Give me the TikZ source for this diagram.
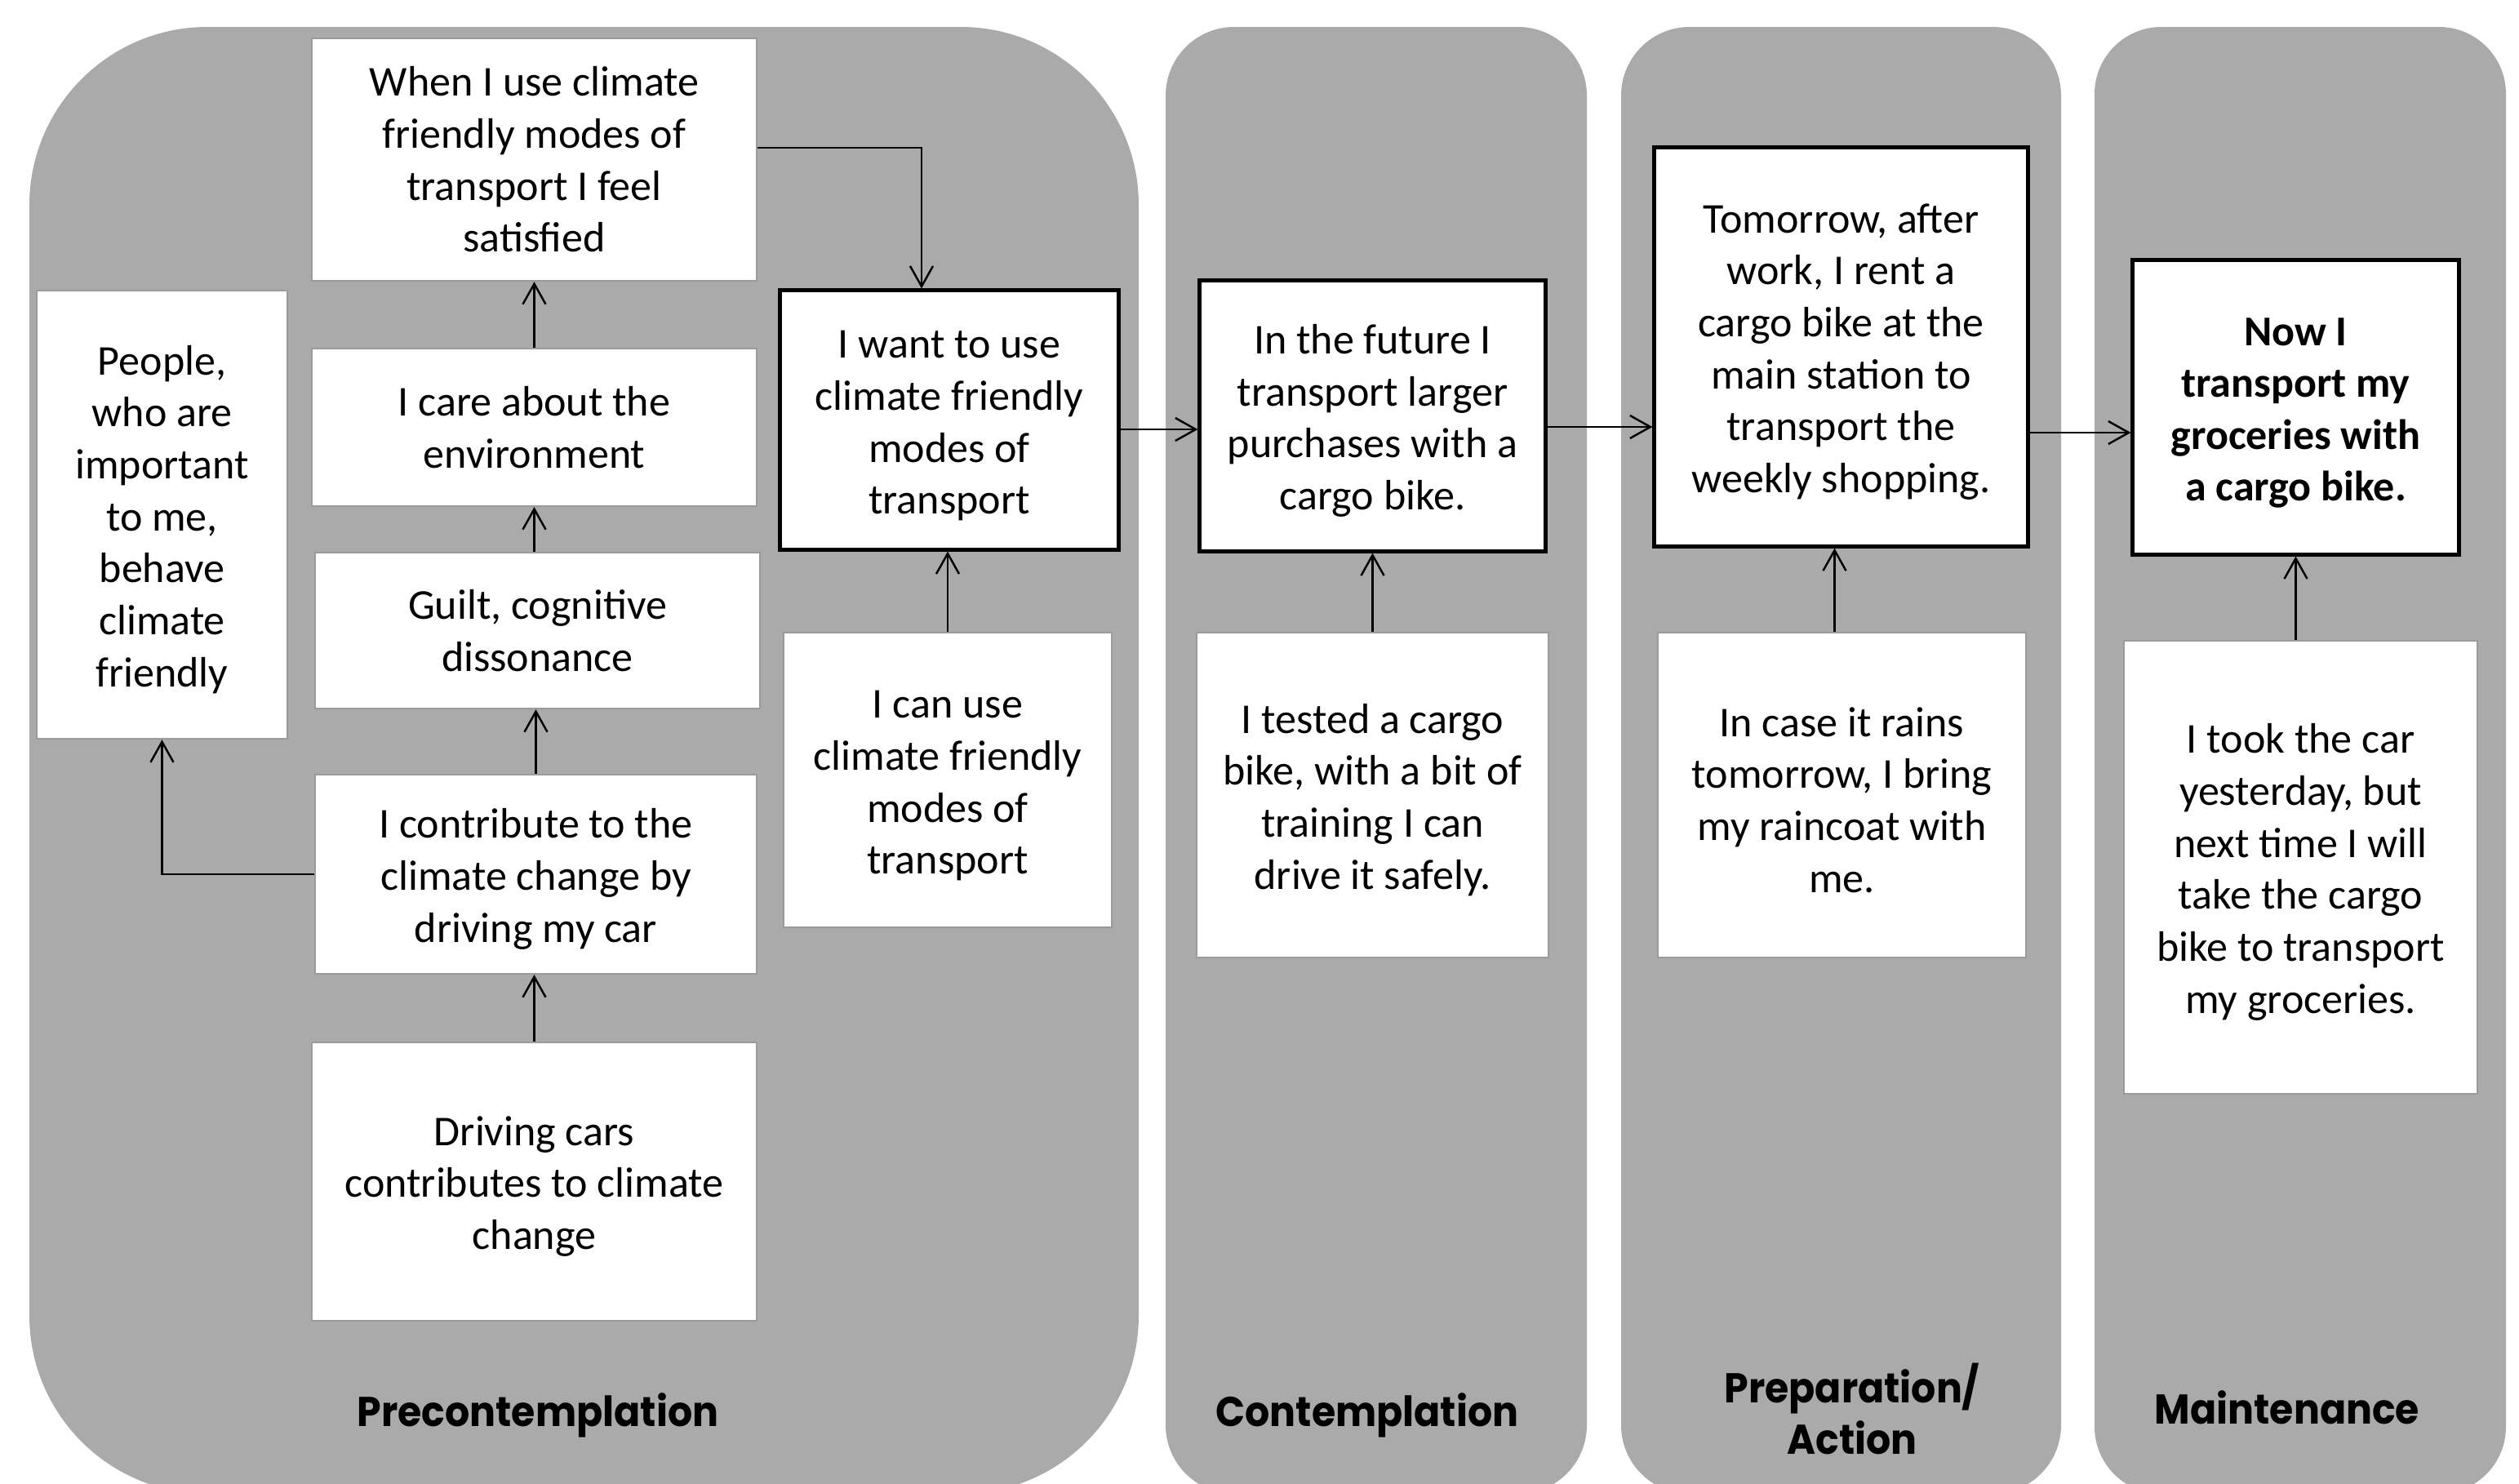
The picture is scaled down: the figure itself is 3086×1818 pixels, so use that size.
\documentclass[tikz,border=0pt]{standalone}
\usepackage{fontspec}
\setmainfont{Carlito}
\newfontfamily\stagefont{Poppins}[FakeStretch=0.93]
\usetikzlibrary{arrows.meta,calc}
\definecolor{panelgray}{RGB}{170,170,170}
\definecolor{boxedge}{RGB}{155,155,155}
\newcommand{\tup}{\rule{0pt}{13.6pt}}
\tikzset{
  panel/.style={fill=panelgray, draw=none},
  box/.style={draw=boxedge, line width=0.6pt, fill=white, align=center, inner sep=0pt,
    font={\fontsize{14.8}{18.1}\selectfont}},
  keybox/.style={box, draw=black, line width=1.4pt},
  stagelabel/.style={align=center, inner sep=0pt,
    font={\stagefont\bfseries\fontsize{14.5}{17.9}\selectfont}},
  arr/.style={line width=0.7pt, -{Straight Barb[length=2.5mm,width=2.8mm,line width=0.7pt]}},
}
\begin{document}
\begin{tikzpicture}[x=0.01cm, y=-0.01cm]
\clip (0,0) rectangle (3086,1818);
\useasboundingbox (0,0) rectangle (3086,1818);
% panels
\fill[panel, rounded corners=2.18cm] (36,33) rectangle (1395,1830);
\fill[panel, rounded corners=0.84cm] (1428,33) rectangle (1944,1830);
\fill[panel, rounded corners=0.84cm] (1986,33) rectangle (2525,1830);
\fill[panel, rounded corners=0.82cm] (2566,33) rectangle (3070,1830);
% stage labels
\node[stagelabel] (s1) at (659,1734) {Precontemplation};
\node[stagelabel] (s2) at (1675,1734) {Contemplation};
\node[stagelabel] (s3) at (2269,1726) {Preparation/\\Action};
\node[stagelabel] (s4) at (2802,1724) {Maintenance};
% boxes
\node[box, minimum width=5.45cm, minimum height=2.97cm] (b1) at (654.5,195.5)
  {When I use climate\\friendly modes of\\transport I feel\\satisfied};
\node[box, minimum width=5.45cm, minimum height=1.93cm] (b2) at (654.5,523.5)
  {I care about the\\environment};
\node[box, minimum width=5.45cm, minimum height=1.91cm] (b3) at (658.5,772.5)
  {Guilt, cognitive\\dissonance};
\node[box, minimum width=5.41cm, minimum height=2.44cm] (b4) at (656.5,1071)
  {\tup I contribute to the\\climate change by\\driving my car};
\node[box, minimum width=5.45cm, minimum height=3.41cm] (b5) at (654.5,1447.5)
  {\tup Driving cars\\contributes to climate\\change};
\node[box, minimum width=3.07cm, minimum height=5.49cm] (b6) at (198.5,630.5)
  {\tup People,\\who are\\important\\to me,\\behave\\climate\\friendly};
\node[keybox, minimum width=4.14cm, minimum height=3.17cm] (b7) at (1163,514.5)
  {\tup I want to use\\climate friendly\\modes of\\transport};
\node[box, minimum width=4.02cm, minimum height=3.61cm] (b8) at (1161,955.5)
  {\tup I can use\\climate friendly\\modes of\\transport};
\node[keybox, minimum width=4.23cm, minimum height=3.31cm] (b9) at (1681.5,509.5)
  {\tup In the future I\\transport larger\\purchases with a\\cargo bike.};
\node[box, minimum width=4.31cm, minimum height=3.98cm] (b10) at (1681.5,974)
  {\tup I tested a cargo\\bike, with a bit of\\training I can\\drive it safely.};
\node[keybox, minimum width=4.57cm, minimum height=4.88cm] (b11) at (2255.5,425)
  {\tup Tomorrow, after\\work, I rent a\\cargo bike at the\\main station to\\transport the\\weekly shopping.};
\node[box, minimum width=4.51cm, minimum height=3.98cm] (b12) at (2256.5,974)
  {\tup In case it rains\\tomorrow, I bring\\my raincoat with\\me.};
\node[keybox, minimum width=3.99cm, minimum height=3.60cm, font={\bfseries\fontsize{14.8}{18.1}\selectfont}] (b13) at (2812.5,499)
  {\tup Now I\\transport my\\groceries with\\a cargo bike.};
\node[box, minimum width=4.33cm, minimum height=5.55cm] (b14) at (2818.5,1062.5)
  {\tup I took the car\\yesterday, but\\next time I will\\take the cargo\\bike to transport\\my groceries.};
% connectors
\coordinate (fa) at (0,526);
\coordinate (fb) at (0,523);
\coordinate (fc) at (0,530);
\draw[arr] ($(b1.east)+(0,-14.5)$) -| ($(b7.north)+(-34,0)$);
\draw[arr] (b2.north) -- (b1.south);
\draw[arr] (b3.north -| b2.north) -- (b2.south);
\draw[arr] (b4.north) -- (b4.north |- b3.south);
\draw[arr] (b5.north) -- (b5.north |- b4.south);
\draw[arr] (b4.west) -| (b6.south);
\draw[arr] (b8.north) -- (b8.north |- b7.south);
\draw[arr] (b7.east |- fa) -- (b9.west |- fa);
\draw[arr] (b10.north) -- (b10.north |- b9.south);
\draw[arr] (b9.east |- fb) -- (b11.west |- fb);
\draw[arr] ($(b12.north)+(-9,0)$) -- ($(b12.north |- b11.south)+(-9,0)$);
\draw[arr] (b11.east |- fc) -- (b13.west |- fc);
\draw[arr] (b14.north -| b13.south) -- (b13.south);
\end{tikzpicture}
\end{document}
